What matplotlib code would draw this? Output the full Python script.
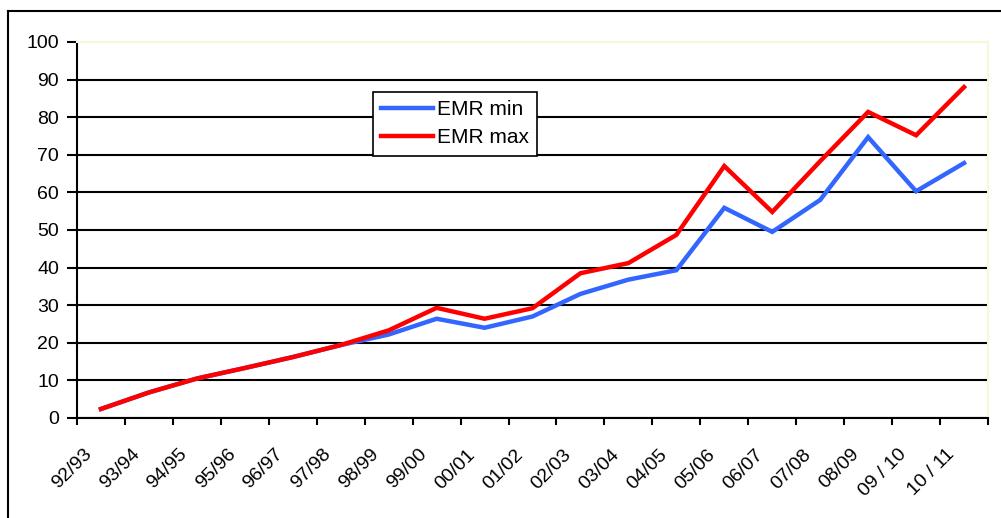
import numpy as np
import matplotlib
matplotlib.use("Agg")
import matplotlib.pyplot as plt
import matplotlib.transforms as mtransforms
from matplotlib.lines import Line2D

plt.rcParams['font.family'] = ['Liberation Sans', 'DejaVu Sans']

seasons = ['92/93', '93/94', '94/95', '95/96', '96/97', '97/98', '98/99',
           '99/00', '00/01', '01/02', '02/03', '03/04', '04/05', '05/06',
           '06/07', '07/08', '08/09', '09 / 10', '10 / 11']
emr_min = [2.4, 6.8, 10.5, 13.3, 16.2, 19.4, 22.2, 26.4, 24.0, 27.0,
           33.0, 36.8, 39.3, 55.9, 49.5, 58.0, 74.7, 60.3, 67.8]
emr_max = [2.4, 6.8, 10.5, 13.3, 16.2, 19.4, 23.3, 29.3, 26.4, 29.2,
           38.5, 41.2, 48.7, 67.0, 54.8, 68.3, 81.4, 75.2, 88.0]

fig = plt.figure(figsize=(10.01, 5.18), dpi=100)
ax = fig.add_axes([77/1001, 1 - 418/518, 911/1001, 376/518])

x = np.arange(len(seasons))
ax.plot(x, emr_min, color='#3366FF', lw=3.2, label='EMR min', solid_joinstyle='miter')
ax.plot(x, emr_max, color='#FF0000', lw=3.2, label='EMR max', solid_joinstyle='miter')

ax.set_xlim(-0.5, len(seasons) - 0.5)
ax.set_ylim(0, 100)
ax.set_yticks(np.arange(0, 101, 10))
ax.set_xticks(np.arange(-0.5, len(seasons), 1))
ax.set_xticklabels([])
ax.set_xticks(x, minor=True)
ax.set_xticklabels(seasons, minor=True, rotation=45, ha='right', va='top',
                   rotation_mode='anchor', fontsize=14)
ax.tick_params(axis='x', which='major', direction='out', length=5, width=1.5)
ax.tick_params(axis='x', which='minor', length=0, pad=20)
ax.tick_params(axis='y', direction='out', length=7, width=1.5, labelsize=14, pad=6)

# shift rotated labels slightly left like the original
offset = mtransforms.ScaledTranslation(-18/100, 0, fig.dpi_scale_trans)
for lab in ax.xaxis.get_minorticklabels():
    lab.set_transform(lab.get_transform() + offset)

ax.yaxis.grid(True, color='black', lw=1.5)
ax.get_ygridlines()[-1].set_visible(False)
ax.set_axisbelow(True)

for s in ['left', 'bottom']:
    ax.spines[s].set_linewidth(1.5)
    ax.spines[s].set_color('black')
for s in ['top', 'right']:
    ax.spines[s].set_color('#f7f7dc')
    ax.spines[s].set_linewidth(1.5)

leg = ax.legend(loc='upper left', bbox_to_anchor=(0.325, 0.868), fontsize=15,
                fancybox=False, edgecolor='black', framealpha=1,
                handlelength=2.5, handletextpad=0.15, borderpad=0.4,
                labelspacing=0.45, borderaxespad=0)
leg.get_frame().set_linewidth(1.2)

# outer chart border
fig.add_artist(Line2D([8/1001, 8/1001], [0, 1 - 11/518], color='black', lw=1.5,
                      transform=fig.transFigure))
fig.add_artist(Line2D([8/1001, 1], [1 - 11/518, 1 - 11/518], color='black', lw=1.5,
                      transform=fig.transFigure))

fig.savefig('out.png', dpi=100)
